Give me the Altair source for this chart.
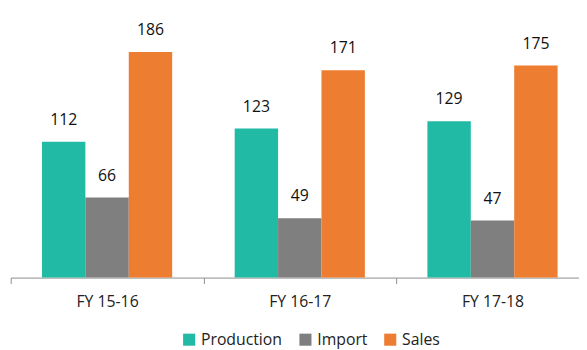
import altair as alt
import pandas as pd

years = ["FY 15-16", "FY 16-17", "FY 17-18"]
series = ["Production", "Import", "Sales"]
production = [112, 123, 129]
imports = [66, 49, 47]
sales = [186, 171, 175]
colors = ["#21BAA5", "#7F7F7F", "#ED7D31"]

rows = []
for i, y in enumerate(years):
    for s, vals in zip(series, [production, imports, sales]):
        rows.append({"year": y, "series": s, "value": vals[i]})
df = pd.DataFrame(rows)

FONT = "Open Sans"

x = alt.X("year:N", sort=years, title=None,
          scale=alt.Scale(range=[0, 586.5], paddingInner=0, paddingOuter=0),
          axis=alt.Axis(labelAngle=0, labelFontSize=16, labelFont=FONT, labelColor="#222222",
                        labelPadding=10, tickBand="extent", tickSize=6, tickColor="#8C8C8C",
                        domainColor="#8C8C8C", grid=False))
xo = alt.XOffset("series:N", sort=series,
                 scale=alt.Scale(paddingInner=0, paddingOuter=0.72))
y = alt.Y("value:Q", scale=alt.Scale(domain=[0, 200], nice=False), axis=None)

bars = alt.Chart(df).mark_bar().encode(
    x=x, xOffset=xo, y=y,
    color=alt.Color("series:N", sort=series,
                    scale=alt.Scale(domain=series, range=colors),
                    legend=alt.Legend(title=None, orient="none", direction="horizontal",
                                      legendX=173, legendY=301, symbolType="square",
                                      symbolSize=150, symbolStrokeWidth=0,
                                      labelFont=FONT, labelFontSize=16, labelColor="#222222",
                                      columnPadding=15, labelOffset=4)),
)

labels = alt.Chart(df).mark_text(baseline="middle", dy=-22, fontSize=16, font=FONT,
                                 color="#111111").encode(
    x=x, xOffset=xo, y=y, text="value:Q")

chart = (bars + labels).properties(
    width=576.5, height=246,
    autosize=alt.AutoSizeParams(type="none"),
    padding={"left": 2.75, "top": 25, "right": 0, "bottom": 71},
).configure_view(stroke=None)

chart.save("out.html", embed_options={"renderer": "svg", "actions": False})
